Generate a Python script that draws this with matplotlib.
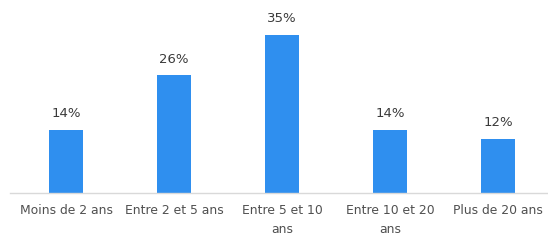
import matplotlib
matplotlib.use("Agg")
import matplotlib.pyplot as plt

categories = ["Moins de 2 ans", "Entre 2 et 5 ans", "Entre 5 et 10\nans", "Entre 10 et 20\nans", "Plus de 20 ans"]
values = [14, 26, 35, 14, 12]
labels = ["14%", "26%", "35%", "14%", "12%"]

plt.rcParams['font.family'] = ['DejaVu Sans']
fig = plt.figure(figsize=(5.48, 2.42), dpi=100)
ax = fig.add_axes([10/548, 49/242, 538/548, 193/242])
x = list(range(len(categories)))
bars = ax.bar(x, values, width=0.315, color="#2F8FEF")
for xi, v, lab in zip(x, values, labels):
    ax.annotate(lab, (xi, v), xytext=(0, 7), textcoords="offset points",
                ha="center", va="bottom", fontsize=9.5, color="#3a3a3a")
ax.set_xlim(-0.52, 4.46)
ax.set_ylim(0, 42.7)
ax.set_xticks(x)
ax.set_xticklabels(categories, fontsize=8.9, color="#505050", linespacing=1.55)
ax.tick_params(axis="x", length=0, pad=8)
ax.set_yticks([])
for s in ["left", "right", "top"]:
    ax.spines[s].set_visible(False)
ax.spines["bottom"].set_color("#d9d9d9")
ax.spines["bottom"].set_linewidth(1)
fig.savefig("out.png", dpi=100)
